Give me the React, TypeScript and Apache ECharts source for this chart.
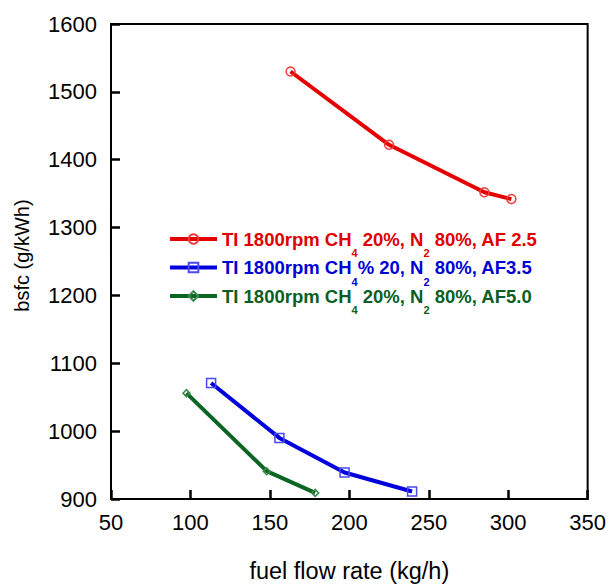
import React, { useEffect, useRef } from "react";
import * as echarts from "echarts";

const seriesNames = [
  "TI 1800rpm CH4 20%, N2 80%, AF 2.5",
  "TI 1800rpm CH4% 20, N2 80%, AF3.5",
  "TI 1800rpm CH4 20%, N2 80%, AF5.0",
];
const redX = [163, 225, 285, 302];
const redY = [1530, 1422, 1352, 1342];
const blueX = [113, 156, 197, 239.5];
const blueY = [1071, 990, 939, 911];
const greenX = [97.5, 148, 178.5];
const greenY = [1056, 941, 909];
const xTicks = [50, 100, 150, 200, 250, 300, 350];
const yTicks = [900, 1000, 1100, 1200, 1300, 1400, 1500, 1600];

const FONT = "'Liberation Sans', Arial, Helvetica, sans-serif";
const lineColors = ["#e60000", "#0000dc", "#0b6623"];
const markColors = ["#ef3b3b", "#4a4af0", "#3b8a4b"];
const textColors = ["#e00000", "#0000d2", "#0b5f22"];
const symbols = ["circle", "rect", "diamond"];
const symbolSizes = [9, 9, 7];

const pairs = (xs: number[], ys: number[]) => xs.map((x, i) => [x, ys[i]]);

const legendRich = (key: string, color: string) => ({
  [key]: { color, fontSize: 18.5, fontWeight: "bold", fontFamily: FONT, lineHeight: 20 },
  [key + "s"]: {
    color,
    fontSize: 11,
    fontWeight: "bold",
    fontFamily: FONT,
    lineHeight: 11,
    padding: [28, 0, 0, 0],
  },
});

const legendTexts: Record<string, string> = {
  [seriesNames[0]]: "{r|TI 1800rpm CH}{rs|4}{r| 20%, N}{rs|2}{r| 80%, AF 2.5}",
  [seriesNames[1]]: "{b|TI 1800rpm CH}{bs|4}{b|% 20, N}{bs|2}{b| 80%, AF3.5}",
  [seriesNames[2]]: "{g|TI 1800rpm CH}{gs|4}{g| 20%, N}{gs|2}{g| 80%, AF5.0}",
};

export default function App() {
  const ref = useRef<HTMLDivElement>(null);
  useEffect(() => {
    if (!ref.current) return;
    const chart = echarts.init(ref.current, undefined, { renderer: "svg" });
    const datas = [pairs(redX, redY), pairs(blueX, blueY), pairs(greenX, greenY)];
    const rich = {
      ...legendRich("r", textColors[0]),
      ...legendRich("b", textColors[1]),
      ...legendRich("g", textColors[2]),
    };
    const legendTops = [219.5, 248, 276.5];
    chart.setOption({
      animation: false,
      backgroundColor: "#fff",
      textStyle: { fontFamily: FONT },
      grid: {
        left: 111,
        right: 20,
        top: 24,
        bottom: 85,
        show: true,
        borderColor: "#000",
        borderWidth: 2,
        backgroundColor: "transparent",
      },
      legend: seriesNames.map((n, i) => ({
        show: true,
        left: 168,
        top: legendTops[i],
        padding: 0,
        orient: "vertical",
        itemWidth: 47,
        itemHeight: 12,
        lineStyle: { width: 4 },
        data: [n],
        formatter: (name: string) => legendTexts[name],
        textStyle: { rich },
      })),
      xAxis: {
        type: "value",
        min: xTicks[0],
        max: xTicks[xTicks.length - 1],
        interval: 50,
        name: "fuel flow rate (kg/h)",
        nameLocation: "middle",
        nameGap: 60,
        nameTextStyle: { color: "#000", fontSize: 23.5, fontFamily: FONT },
        axisLine: { show: true, lineStyle: { color: "#000", width: 2 } },
        axisTick: { show: true, inside: true, length: 9, lineStyle: { color: "#000", width: 2.5 } },
        axisLabel: { color: "#000", fontSize: 22, fontFamily: FONT, margin: 12, formatter: (v: number) => String(v) },
        splitLine: { show: false },
      },
      yAxis: {
        type: "value",
        min: yTicks[0],
        max: yTicks[yTicks.length - 1],
        interval: 100,
        name: "bsfc (g/kWh)",
        nameLocation: "middle",
        nameGap: 79,
        nameTextStyle: { color: "#000", fontSize: 20, fontFamily: FONT, padding: [0, 0, 0, 12] },
        axisLine: { show: true, lineStyle: { color: "#000", width: 2 } },
        axisTick: { show: true, inside: true, length: 9, lineStyle: { color: "#000", width: 2.5 } },
        axisLabel: { color: "#000", fontSize: 22, fontFamily: FONT, margin: 14, formatter: (v: number) => String(v) },
        splitLine: { show: false },
      },
      series: seriesNames.map((n, i) => ({
        name: n,
        type: "line",
        data: datas[i],
        symbol: symbols[i],
        symbolSize: symbolSizes[i],
        showAllSymbol: true,
        lineStyle: { color: lineColors[i], width: 4 },
        itemStyle: { color: "transparent", borderColor: markColors[i], borderWidth: 1.5 },
        emphasis: { disabled: true },
      })),
    });
    return () => chart.dispose();
  }, []);
  return <div ref={ref} style={{ width: 609, height: 588, position: "absolute", left: 0, top: 0 }} />;
}
